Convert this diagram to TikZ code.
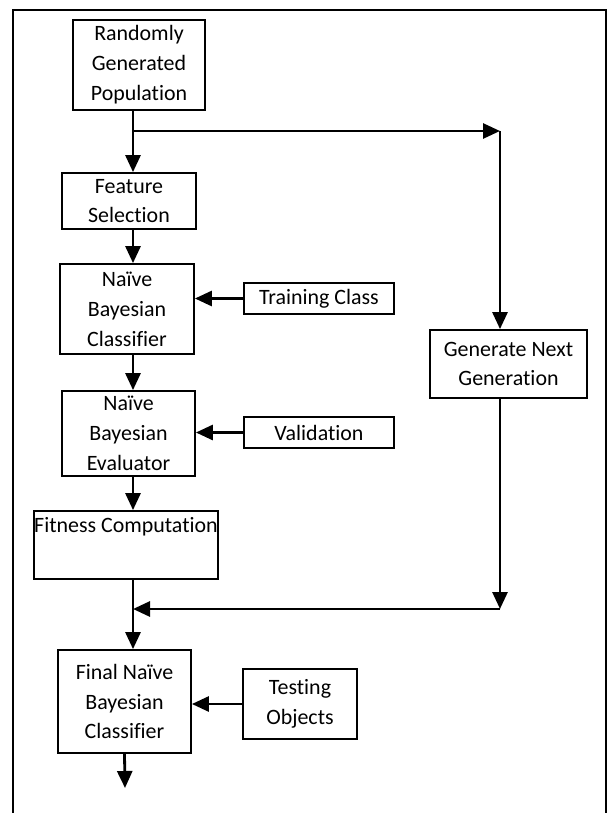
\documentclass[tikz,border=0pt]{standalone}
\usepackage{fontspec}
\setmainfont{Carlito}[Ligatures=NoCommon]
\usetikzlibrary{arrows.meta,calc}

\begin{document}
\begin{tikzpicture}[x=1bp,y=-1bp,
    box/.style={draw,line width=1.8bp,inner sep=2bp,align=center,font=\fontsize{22}{30}\selectfont},
    flow/.style={line width=2.8bp,-{Triangle[length=17bp,width=15bp]}}]
  \useasboundingbox (0,0) rectangle (612,813);
  % open frame
  \draw[line width=2.2bp] (13,830) -- (13,10) -- (606,10) -- (606,830);

  \node[box,minimum width=132bp,minimum height=90bp] (pop) at (139,65) {Randomly\\Generated\\Population};
  \node[box,minimum width=134bp,minimum height=56bp] (fs) at (129,201) {Feature\\Selection};
  \node[box,minimum width=134bp,minimum height=90bp] (nbc) at (127,309) {Naïve\\Bayesian\\Classifier};
  \node[box,minimum width=133bp,minimum height=85bp] (nbe) at (128.5,433.5) {Naïve\\Bayesian\\Evaluator};
  \node[box,inner xsep=0bp,minimum width=184bp,text height=19bp,text depth=45bp] (fit) at (126,545) {Fitness Computation};
  \node[box,minimum width=133bp,minimum height=103bp] (fnbc) at (124.5,701.5) {Final Naïve\\Bayesian\\Classifier};

  \node[box,minimum width=150bp,minimum height=31bp] (train) at (319,298.5) {Training Class};
  \node[box,minimum width=150bp,minimum height=31bp] (valid) at (319,432.5) {Validation};
  \node[box,minimum width=114bp,minimum height=70bp] (test) at (300,704) {Testing\\Objects};
  \node[box,minimum width=157bp,minimum height=68bp] (gng) at (508.5,364) {Generate Next\\Generation};

  \coordinate (spine) at (133,0);
  \coordinate (split) at (133,131);
  \coordinate (turn) at (500,131);
  \coordinate (back) at (500,609);
  \coordinate (out) at (125,788);

  \draw[flow] (pop.south -| spine) -- (fs.north -| spine);
  \foreach \a/\b in {fs/nbc,nbc/nbe,nbe/fit,fit/fnbc}
    \draw[flow] (\a.south -| spine) -- (\b.north -| spine);
  \foreach \src/\dst in {train/nbc,valid/nbe,test/fnbc}
    \draw[flow] (\src.west) -- (\dst.east |- \src.west);

  % loop through the next generation
  \draw[flow] (split) -- (turn);
  \draw[flow] (turn) -- (gng.north -| turn);
  \draw[flow] (gng.south -| turn) -- (back);
  \draw[flow] (back) -- (back -| spine);

  \draw[flow] (fnbc.south) -- (out);
\end{tikzpicture}
\end{document}
